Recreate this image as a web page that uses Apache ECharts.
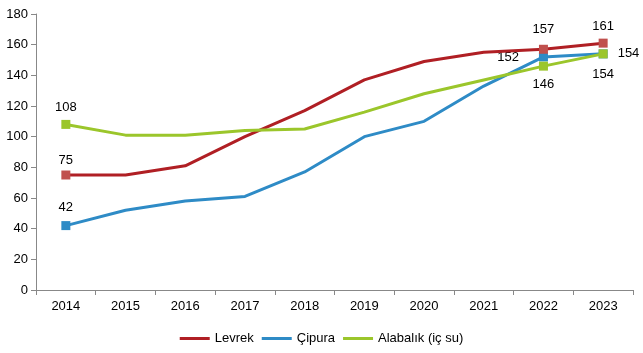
<!DOCTYPE html>
<html><head><meta charset="utf-8">
<script src="https://cdn.jsdelivr.net/npm/echarts@6/dist/echarts.min.js"></script>
<style>html,body{margin:0;padding:0;background:#fff}#c{width:643px;height:353px}</style>
</head><body><div id="c"></div>
<script>
var years = ['2014','2015','2016','2017','2018','2019','2020','2021','2022','2023'];
var levrek = [75, 75, 81, 100, 117, 137, 149, 155, 157, 161];
var cipura = [42, 52, 58, 61, 77, 100, 110, 133, 152, 154];
var alabalik = [108, 101, 101, 104, 105, 116, 128, 137, 146, 154];
var seriesNames = ['Levrek', 'Çipura', 'Alabalık (iç su)'];

var markedIdx = [0, 8, 9];
function build(vals, markerColor, positions, distances) {
  return vals.map(function (v, i) {
    var k = markedIdx.indexOf(i);
    if (k < 0) return v;
    return {
      value: v,
      symbol: 'rect',
      symbolSize: 9,
      itemStyle: { color: markerColor },
      label: { show: true, position: positions[k], distance: distances[k] }
    };
  });
}
var labelStyle = { fontFamily: 'Liberation Sans', fontSize: 13, color: '#000' };
function series(name, vals, lineColor, markerColor, positions, distances, z) {
  return {
    name: name, type: 'line', data: build(vals, markerColor, positions, distances),
    symbol: 'none', z: z,
    lineStyle: { color: lineColor, width: 3 },
    itemStyle: { color: lineColor },
    label: Object.assign({ show: false }, labelStyle),
    emphasis: { disabled: true },
    animation: false
  };
}
var chart = echarts.init(document.getElementById('c'));
chart.setOption({
  backgroundColor: '#fff',
  animation: false,
  grid: { left: 36, right: 10, top: 14, bottom: 63 },
  legend: {
    bottom: 3, left: 'center', itemWidth: 30, itemHeight: 3, itemGap: 8,
    icon: 'rect',
    textStyle: { fontFamily: 'Liberation Sans', fontSize: 13, color: '#000' },
    data: seriesNames
  },
  xAxis: {
    type: 'category', data: years, boundaryGap: true,
    axisLine: { lineStyle: { color: '#888' } },
    axisTick: { show: true, length: 5, lineStyle: { color: '#888' } },
    axisLabel: { fontFamily: 'Liberation Sans', fontSize: 13, color: '#000', margin: 10 }
  },
  yAxis: {
    type: 'value', min: 0, max: 180, interval: 20,
    axisLine: { show: true, lineStyle: { color: '#888' } },
    axisTick: { show: true, length: 5, lineStyle: { color: '#888' } },
    splitLine: { show: false },
    axisLabel: { fontFamily: 'Liberation Sans', fontSize: 13, color: '#000', margin: 8 }
  },
  series: [
    series(seriesNames[0], levrek, '#B01F24', '#C0504D', ['top', 'top', 'top'], [4, 9, 6], 3),
    series(seriesNames[1], cipura, '#2E8BC6', '#2E8BC6', ['top', 'left', 'right'], [7, 20, 10], 2),
    series(seriesNames[2], alabalik, '#9BC62B', '#9BC62B', ['top', 'bottom', 'bottom'], [6, 7, 10], 4)
  ]
});
</script></body></html>
